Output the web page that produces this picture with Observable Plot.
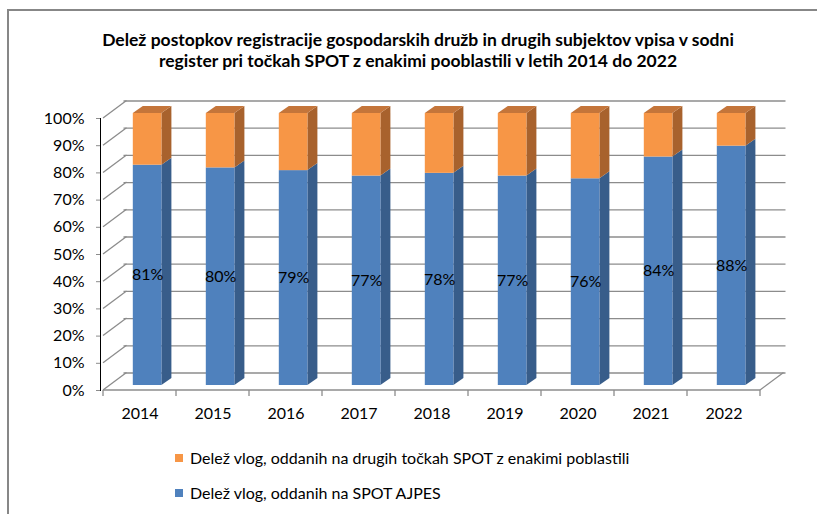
<!DOCTYPE html>
<html><head><meta charset="utf-8">
<script src="https://cdn.jsdelivr.net/npm/d3@7"></script>
<script src="https://cdn.jsdelivr.net/npm/@observablehq/plot@0.6"></script>
<style>
html,body{margin:0;padding:0;background:#fff;}
body{overflow:hidden;width:817px;height:514px;position:relative;font-family:Lato, sans-serif;color:#000;}
#frame{position:absolute;left:7px;top:9px;width:900px;height:600px;border:2px solid #878787;box-sizing:border-box;}
#title{position:absolute;left:0;top:29px;width:836px;text-align:center;font-weight:bold;font-size:17.5px;line-height:21px;}
#chart{position:absolute;left:0;top:80px;}
#legend{position:absolute;left:175px;top:440px;font-size:16px;}
.row{height:35px;display:flex;align-items:center;}
.sw{width:8px;height:8px;margin-right:7px;flex:none;}
</style></head>
<body>
<div id="frame"></div>
<div id="title">Delež postopkov registracije gospodarskih družb in drugih subjektov vpisa v sodni<br>register pri točkah SPOT z enakimi pooblastili v letih 2014 do 2022</div>
<div id="chart"></div>
<div id="legend"></div>
<script>
const years = ["2014","2015","2016","2017","2018","2019","2020","2021","2022"];
const ajpes = [0.81,0.80,0.79,0.77,0.78,0.77,0.76,0.84,0.88];
const seriesNames = ["Delež vlog, oddanih na drugih točkah SPOT z enakimi poblastili","Delež vlog, oddanih na SPOT AJPES"];
const yTicks = [0,0.1,0.2,0.3,0.4,0.5,0.6,0.7,0.8,0.9,1];

const blue = "#4F81BD", blueSide = "#385D8A";
const orange = "#F79646", orangeSide = "#A8622D", orangeTop = "#C4753A";
const gridColor = "#8c8c8c";
const depth = {dx: 23.5, dy: -17.5};
const bf = {dx: 7.6, dy: -5};
const bd = {dx: 10, dy: -7};
const inset = 22.2;

const rows = years.map((year, i) => ({year, ajpes: ajpes[i]}));
const pct = d3.format(".0%");

function frame3d(index, scales) {
  const x = scales.x, y = scales.y;
  const step = x.step ? x.step() : x.bandwidth();
  const x0 = x(years[0]);
  const x1 = x0 + step * years.length;
  const g = d3.create("svg:g").attr("stroke", gridColor).attr("stroke-width", 1.3).attr("fill", "none");
  for (const t of yTicks) {
    g.append("line").attr("x1", x0).attr("y1", y(t)).attr("x2", x0 + depth.dx).attr("y2", y(t) + depth.dy);
  }
  g.append("line").attr("x1", x1).attr("y1", y(0)).attr("x2", x1 + depth.dx).attr("y2", y(0) + depth.dy);
  g.append("line").attr("x1", x0).attr("y1", y(0)).attr("x2", x1).attr("y2", y(0));
  for (let i = 0; i <= years.length; i++) {
    const xx = x0 + i * step;
    g.append("line").attr("x1", xx).attr("y1", y(0)).attr("x2", xx).attr("y2", y(0) + 6);
  }
  return g.node();
}

function bars3d(index, scales) {
  const x = scales.x, y = scales.y;
  const g = d3.create("svg:g").attr("stroke", "none");
  const poly = (pts, fill) => g.append("polygon").attr("points", pts.map(p => p.join(",")).join(" ")).attr("fill", fill);
  for (const r of rows) {
    const xl = x(r.year) + inset + bf.dx;
    const xr = x(r.year) + x.bandwidth() - inset + bf.dx;
    const yb = y(0) + bf.dy, yv = y(r.ajpes) + bf.dy, yt = y(1) + bf.dy;
    poly([[xr, yb], [xr + bd.dx, yb + bd.dy], [xr + bd.dx, yv + bd.dy], [xr, yv]], blueSide);
    poly([[xr, yv], [xr + bd.dx, yv + bd.dy], [xr + bd.dx, yt + bd.dy], [xr, yt]], orangeSide);
    poly([[xl, yt], [xr, yt], [xr + bd.dx, yt + bd.dy], [xl + bd.dx, yt + bd.dy]], orangeTop);
  }
  return g.node();
}

const chart = Plot.plot({
  width: 817, height: 360,
  marginLeft: 100, marginRight: 55, marginTop: 38, marginBottom: 50,
  style: {fontFamily: "Lato, sans-serif", fontSize: "16px", color: "#000", background: "transparent", overflow: "visible"},
  x: {domain: years, padding: 0, tickSize: 0, tickPadding: 17, label: null},
  y: {domain: [0, 1], ticks: 10, tickFormat: pct, tickSize: 4, tickPadding: 12, line: true, label: null},
  marks: [
    Plot.ruleY(yTicks, {dx: depth.dx, dy: depth.dy, stroke: gridColor, strokeWidth: 1.3}),
    frame3d,
    bars3d,
    Plot.barY(rows, {x: "year", y1: () => 0, y2: "ajpes", fill: blue, insetLeft: inset, insetRight: inset, dx: bf.dx, dy: bf.dy}),
    Plot.barY(rows, {x: "year", y1: "ajpes", y2: () => 1, fill: orange, insetLeft: inset, insetRight: inset, dx: bf.dx, dy: bf.dy}),
    Plot.text(rows, {x: "year", y: d => d.ajpes / 2, text: d => pct(d.ajpes), dx: bf.dx, dy: bf.dy, fill: "#000", fontSize: 16})
  ]
});
chart.querySelectorAll("[aria-label='y-axis'] path, [aria-label='y-axis'] line, [aria-label='y-axis tick']").forEach(e => e.setAttribute("stroke", gridColor));
document.getElementById("chart").appendChild(chart);

const legend = d3.select("#legend");
[[orange, seriesNames[0]], [blue, seriesNames[1]]].forEach(([c, name]) => {
  const row = legend.append("div").attr("class", "row");
  row.append("div").attr("class", "sw").style("background", c);
  row.append("span").text(name);
});
</script>
</body></html>
